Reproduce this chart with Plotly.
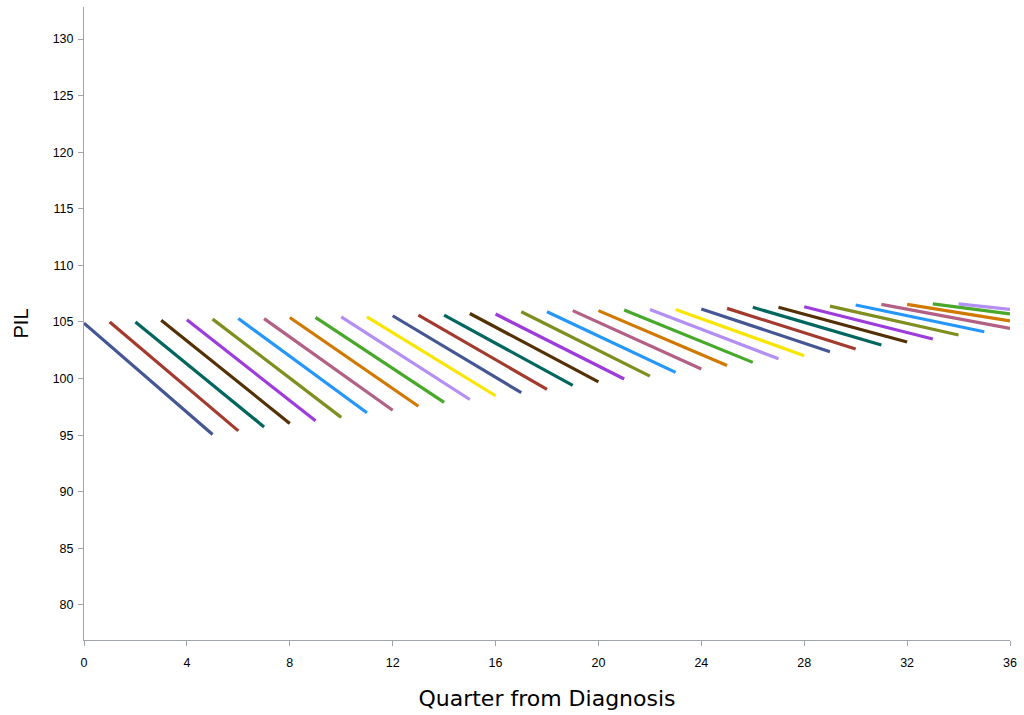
import plotly.graph_objects as go

# Start quarter of each projected segment
start_q = list(range(35))
# End quarter of each segment (5 quarters later, truncated at 36)
end_q = [min(s + 5, 36) for s in start_q]

# PIL value at segment start
start_pil = [104.9, 105.0, 105.0, 105.15, 105.2, 105.25, 105.3, 105.3, 105.4, 105.4,
             105.45, 105.45, 105.55, 105.6, 105.6, 105.75, 105.7, 105.9, 105.9, 106.0,
             106.0, 106.05, 106.1, 106.1, 106.15, 106.2, 106.3, 106.3, 106.35, 106.4,
             106.5, 106.55, 106.55, 106.6, 106.6]
# PIL value at segment end
end_pil = [95.06, 95.38, 95.73, 96.04, 96.27, 96.57, 96.98, 97.2, 97.55, 97.9,
           98.15, 98.48, 98.75, 99.05, 99.4, 99.7, 99.96, 100.22, 100.55, 100.84,
           101.16, 101.43, 101.75, 102.02, 102.37, 102.61, 102.96, 103.23, 103.5, 103.85,
           104.14, 104.44, 105.09, 105.71, 106.12]

palette = ["#445694", "#A23A2E", "#01665E", "#543005", "#9D3CDB", "#7F8E1F",
           "#2597FA", "#B26084", "#D17800", "#47A82A", "#B38EF3", "#F9E500"]

x_ticks = [0, 4, 8, 12, 16, 20, 24, 28, 32, 36]
y_ticks = [80, 85, 90, 95, 100, 105, 110, 115, 120, 125, 130]

fig = go.Figure()
for i, s in enumerate(start_q):
    fig.add_trace(go.Scatter(
        x=[s, end_q[i]], y=[start_pil[i], end_pil[i]],
        mode="lines",
        line=dict(color=palette[i % len(palette)], width=3.2),
        showlegend=False, hoverinfo="skip"))

axis_color = "#A0A4AC"
fig.update_layout(
    width=1024, height=715,
    margin=dict(l=84, r=8, t=7, b=75),
    paper_bgcolor="white", plot_bgcolor="white",
    font=dict(family="Liberation Sans, Arial, sans-serif", color="#000000"),
    xaxis=dict(range=[0, 36], tickvals=x_ticks, ticktext=[str(v) for v in x_ticks],
               showgrid=False, zeroline=False, showline=True, linecolor=axis_color,
               linewidth=1, ticks="outside", ticklen=5, tickcolor=axis_color,
               tickfont=dict(size=12.5), ticklabelstandoff=6,
               title=dict(text="Quarter from Diagnosis",
                          font=dict(size=22, family="DejaVu Sans, sans-serif"),
                          standoff=21)),
    yaxis=dict(range=[76.9, 132.83], tickvals=y_ticks, ticktext=[str(v) for v in y_ticks],
               showgrid=False, zeroline=False, showline=True, linecolor=axis_color,
               linewidth=1, ticks="outside", ticklen=5, tickcolor=axis_color,
               tickfont=dict(size=12.5), ticklabelstandoff=2,
               title=dict(text="PIL", font=dict(size=20), standoff=18)),
)

fig.write_html("out.html", config={"displayModeBar": False},
               post_script="document.body.style.margin='0';document.body.style.overflow='hidden';")
